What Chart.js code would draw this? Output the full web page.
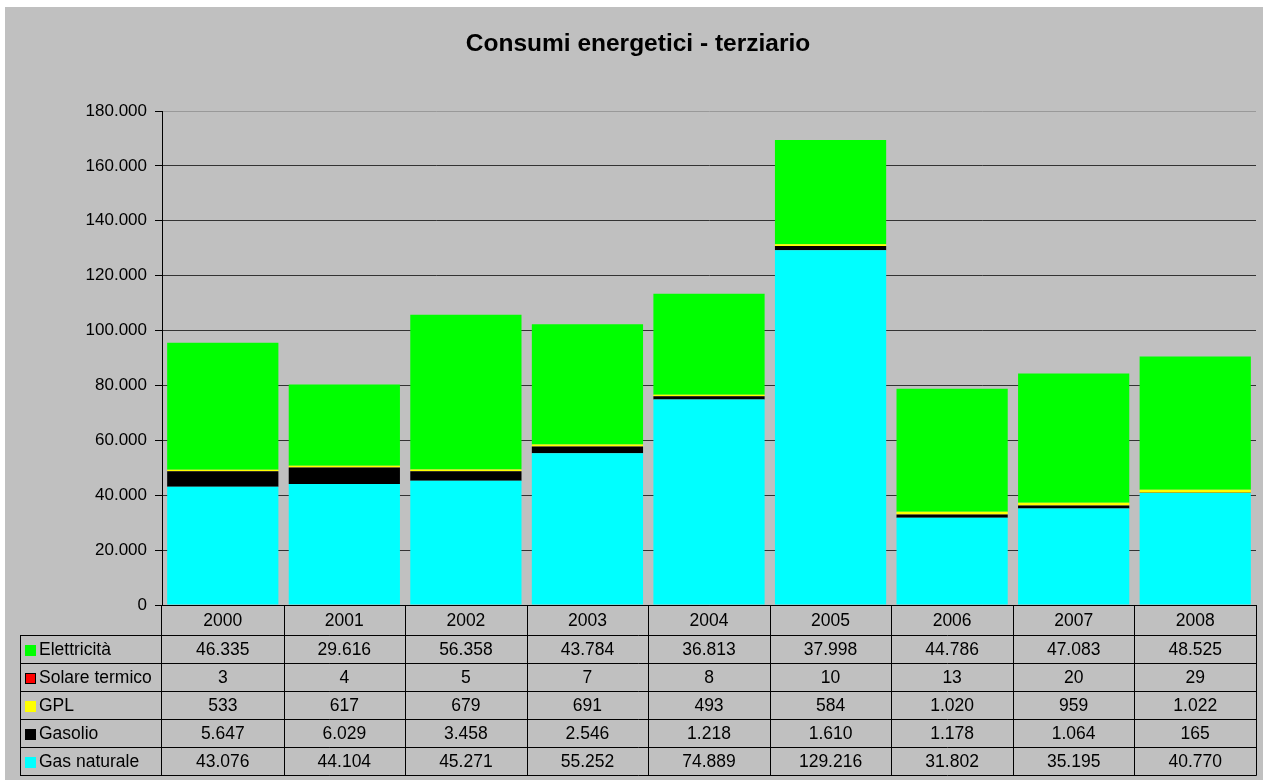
<!DOCTYPE html>
<html>
<head>
<meta charset="utf-8">
<script src="https://cdn.jsdelivr.net/npm/chart.js@4/dist/chart.umd.min.js"></script>
<style>
html,body{margin:0;padding:0;background:#fff;overflow:hidden;}
canvas{display:block;}
</style>
</head>
<body>
<canvas id="c" width="1263" height="780"></canvas>
<script>
const chartTitle = "Consumi energetici - terziario";
const years = ["2000","2001","2002","2003","2004","2005","2006","2007","2008"];
const elettricita = [46335, 29616, 56358, 43784, 36813, 37998, 44786, 47083, 48525];
const solareTermico = [3, 4, 5, 7, 8, 10, 13, 20, 29];
const gpl = [533, 617, 679, 691, 493, 584, 1020, 959, 1022];
const gasolio = [5647, 6029, 3458, 2546, 1218, 1610, 1178, 1064, 165];
const gasNaturale = [43076, 44104, 45271, 55252, 74889, 129216, 31802, 35195, 40770];
const yTicks = [0, 20000, 40000, 60000, 80000, 100000, 120000, 140000, 160000, 180000];

const FONT = "'Liberation Sans', Arial, Helvetica, sans-serif";
Chart.defaults.font.family = FONT;
Chart.defaults.color = '#000';

function fmt(n){ return String(n).replace(/\B(?=(\d{3})+(?!\d))/g, '.'); }

// table rows (top to bottom) – stacking order is the reverse
const seriesTable = [
  {label:'Elettricità', data: elettricita, color:'#00FF00', border:false},
  {label:'Solare termico', data: solareTermico, color:'#FF0000', border:true},
  {label:'GPL', data: gpl, color:'#FFFF00', border:false},
  {label:'Gasolio', data: gasolio, color:'#000000', border:false},
  {label:'Gas naturale', data: gasNaturale, color:'#00FFFF', border:false}
];
const stackOrder = seriesTable.slice().reverse();

const bgPlugin = {
  id:'bg',
  beforeDraw(chart){
    const ctx = chart.ctx;
    ctx.save();
    ctx.fillStyle = '#fff';
    ctx.fillRect(0,0,chart.width,chart.height);
    ctx.fillStyle = '#C0C0C0';
    ctx.fillRect(5,7,chart.width-5,chart.height-7);
    ctx.fillStyle = '#000';
    ctx.font = 'bold 24.5px ' + FONT;
    ctx.textAlign = 'center';
    ctx.textBaseline = 'alphabetic';
    ctx.fillText(chartTitle, 638, 51);
    ctx.restore();
  }
};

const tablePlugin = {
  id:'dataTable',
  afterDraw(chart){
    const ctx = chart.ctx;
    const ca = chart.chartArea;
    const xs = chart.scales.x;
    const n = years.length;
    const cw = (ca.right - ca.left) / n;
    const top = Math.round(ca.bottom);
    const headerBottom = top + 30;
    const rowH = 28;
    const tableBottom = headerBottom + rowH * seriesTable.length;
    const tableLeft = 20;
    const L = Math.round(ca.left), R = Math.round(ca.right);
    ctx.save();
    ctx.strokeStyle = '#000';
    ctx.lineWidth = 1;
    ctx.beginPath();
    ctx.moveTo(L, top + 0.5); ctx.lineTo(R + 0.5, top + 0.5);
    for (let r = 0; r <= seriesTable.length; r++){
      const y = headerBottom + r * rowH + 0.5;
      ctx.moveTo(tableLeft, y); ctx.lineTo(R + 0.5, y);
    }
    ctx.moveTo(tableLeft + 0.5, headerBottom); ctx.lineTo(tableLeft + 0.5, tableBottom + 0.5);
    ctx.moveTo(L - 0.5, top); ctx.lineTo(L - 0.5, tableBottom + 0.5);
    for (let i = 1; i <= n; i++){
      const x = Math.round(ca.left + i * cw) + 0.5;
      ctx.moveTo(x, top); ctx.lineTo(x, tableBottom + 0.5);
    }
    ctx.stroke();

    ctx.fillStyle = '#000';
    ctx.font = '17.5px ' + FONT;
    ctx.textAlign = 'center';
    ctx.textBaseline = 'middle';
    for (let i = 0; i < n; i++){
      const cx = xs.getPixelForValue(i);
      ctx.fillText(years[i], cx, top + 16);
      seriesTable.forEach((s, r) => {
        const cy = headerBottom + r * rowH + rowH / 2 + 1;
        ctx.fillText(fmt(s.data[i]), cx, cy);
      });
    }
    ctx.textAlign = 'left';
    seriesTable.forEach((s, r) => {
      const cy = headerBottom + r * rowH + rowH / 2 + 1;
      const sy = Math.round(cy - 5.5);
      ctx.fillStyle = s.color;
      ctx.fillRect(25, sy, 11, 11);
      if (s.border){
        ctx.strokeStyle = '#000';
        ctx.lineWidth = 1;
        ctx.strokeRect(25.5, sy + 0.5, 10, 10);
      }
      ctx.fillStyle = '#000';
      ctx.fillText(s.label, 39, cy);
    });
    ctx.restore();
  }
};

new Chart(document.getElementById('c'), {
  type: 'bar',
  data: {
    labels: years,
    datasets: stackOrder.map(s => ({
      label: s.label,
      data: s.data,
      backgroundColor: s.color,
      borderWidth: 0,
      categoryPercentage: 1.0,
      barPercentage: 0.915
    }))
  },
  options: {
    responsive: false,
    animation: false,
    layout: { padding: { top: 111, right: 7, bottom: 175, left: 0 } },
    plugins: {
      legend: { display: false },
      title: { display: false },
      tooltip: { enabled: false }
    },
    scales: {
      x: {
        stacked: true,
        display: false
      },
      y: {
        stacked: true,
        min: 0,
        max: 180000,
        afterFit(scale){ scale.width = 162; },
        afterBuildTicks(scale){ scale.ticks = yTicks.map(v => ({value: v})); },
        ticks: {
          font: { size: 17 },
          color: '#000',
          padding: 8,
          callback: v => fmt(v)
        },
        grid: {
          color: ctx => (ctx.tick && ctx.tick.value === 180000) ? '#999999' : (ctx.tick && ctx.tick.value === 0 ? '#000' : '#333333'),
          lineWidth: 1,
          tickColor: '#000',
          tickLength: 7,
          drawTicks: true
        },
        border: { display: true, color: '#000', width: 1 }
      }
    }
  },
  plugins: [bgPlugin, tablePlugin]
});
</script>
</body>
</html>
